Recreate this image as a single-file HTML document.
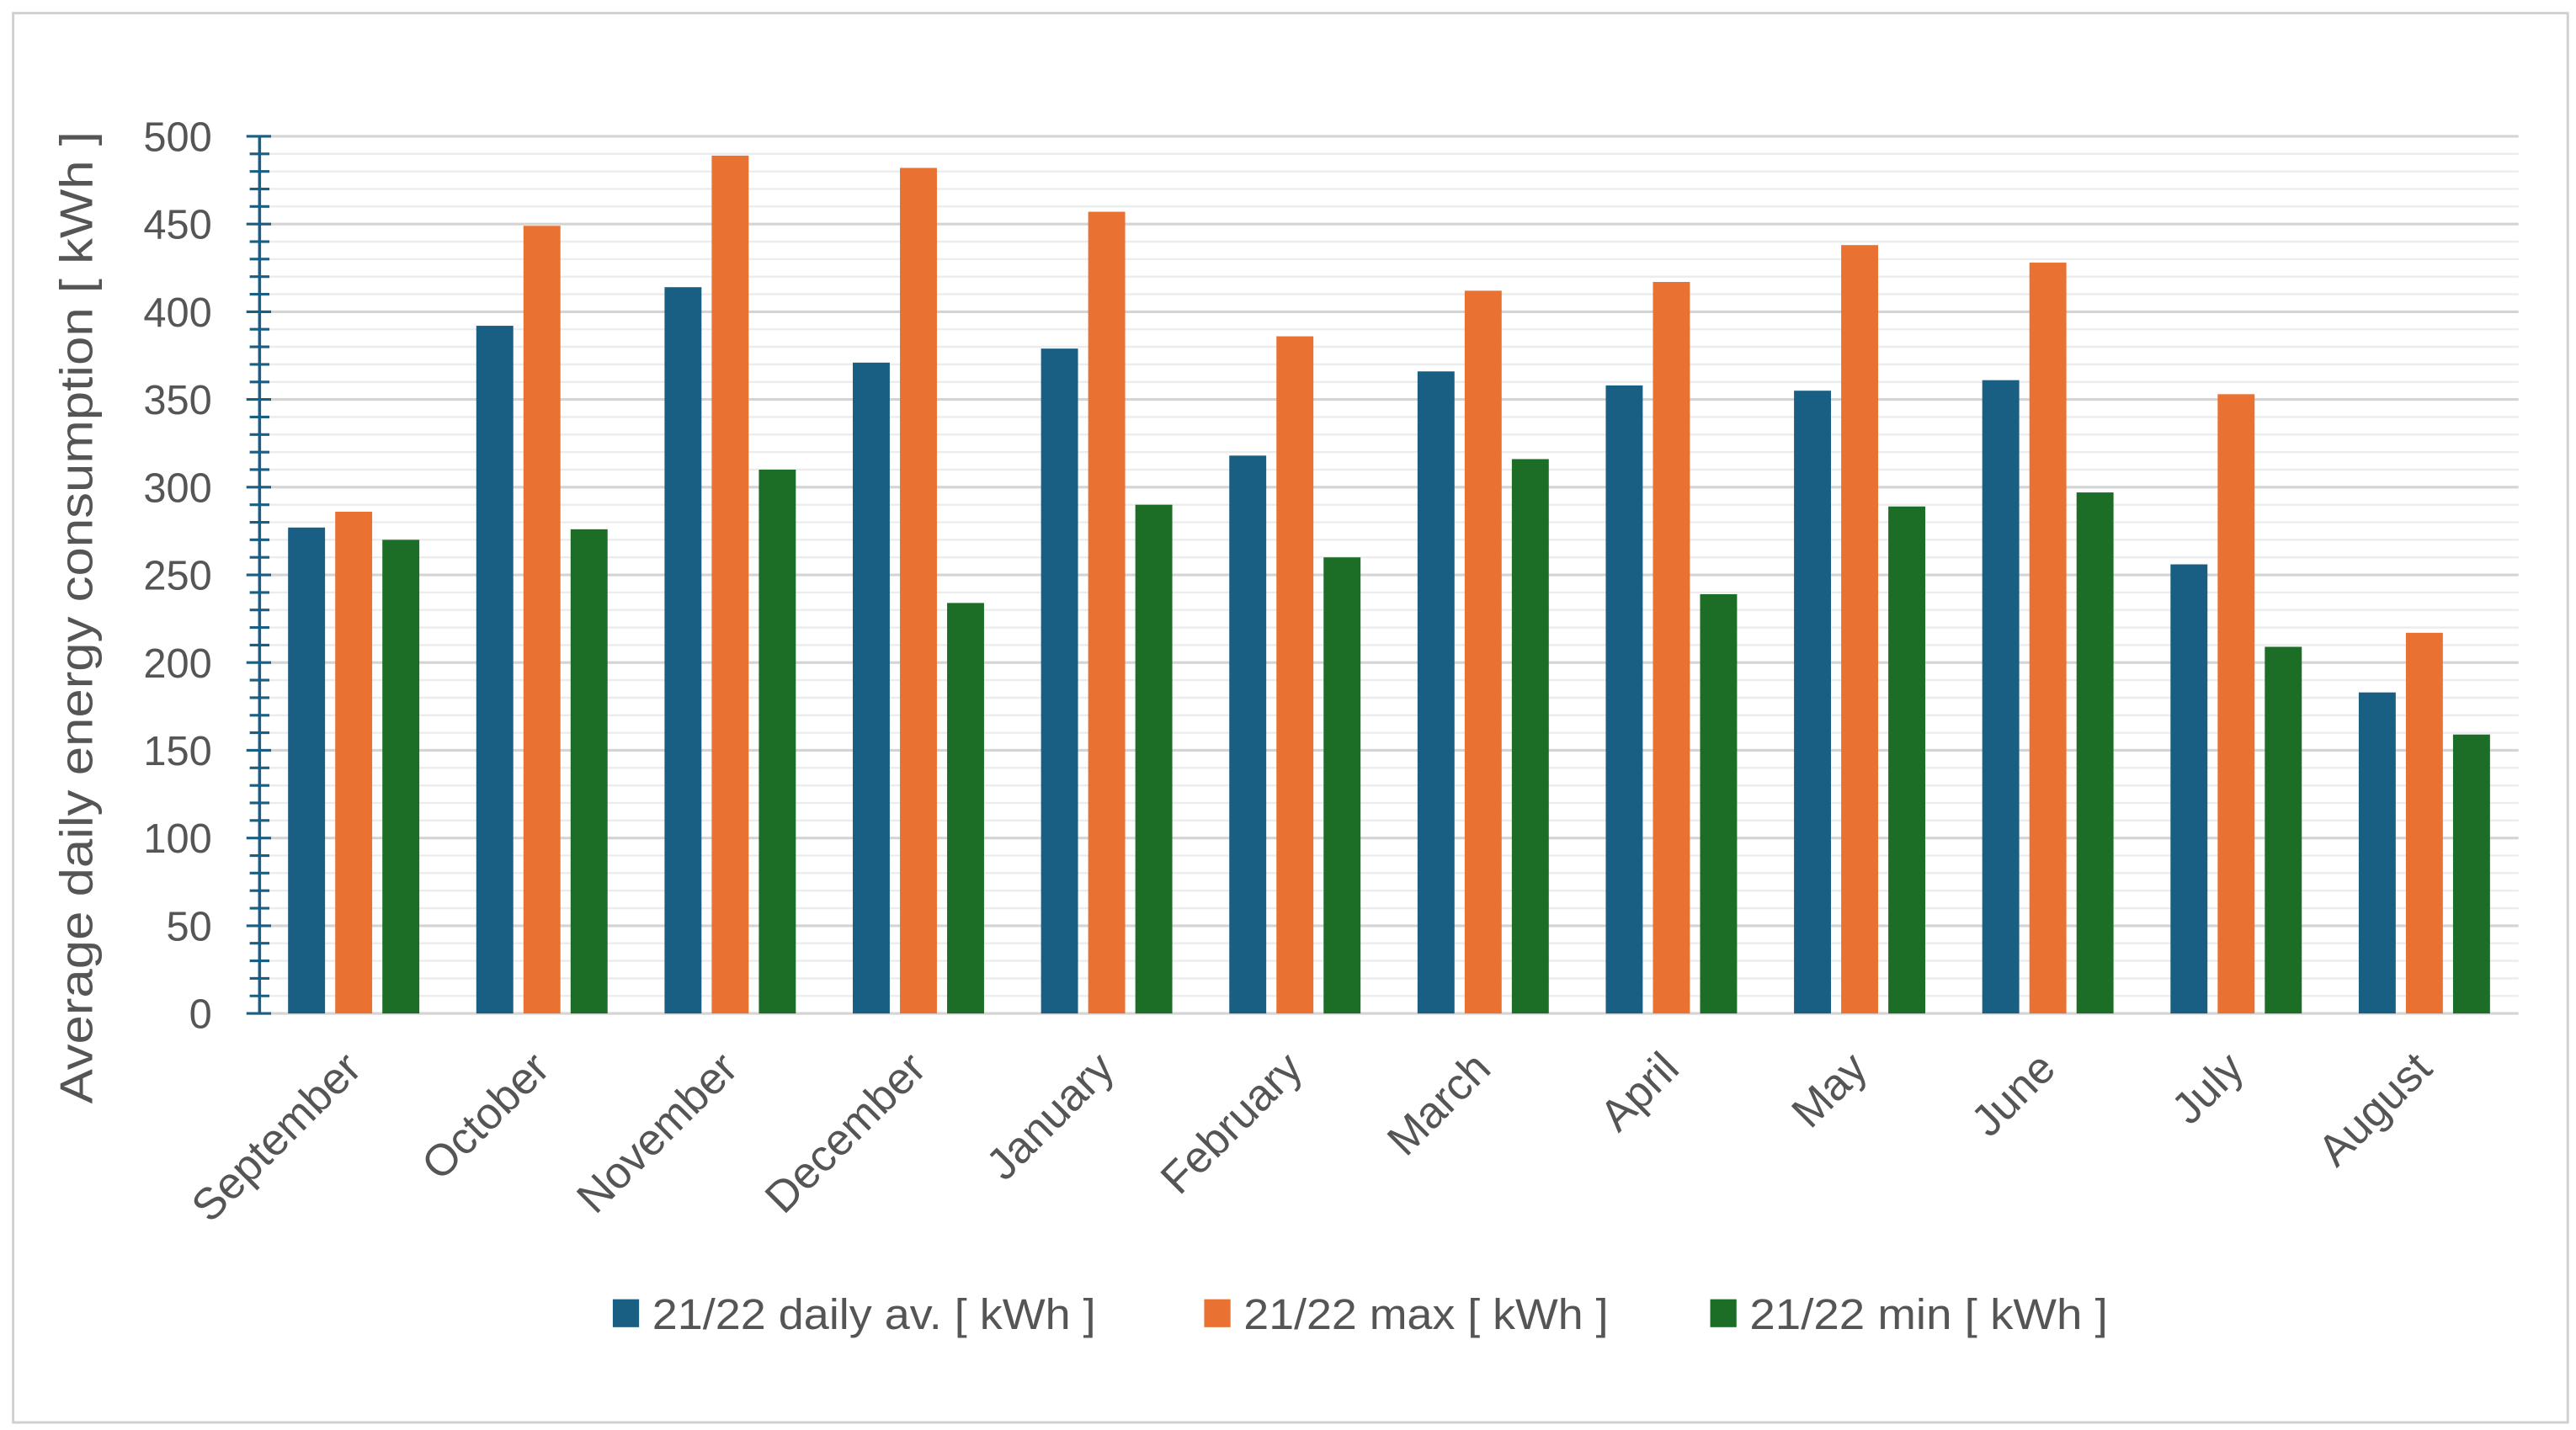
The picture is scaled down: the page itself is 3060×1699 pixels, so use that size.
<!DOCTYPE html>
<html><head><meta charset="utf-8"><style>
html,body{margin:0;padding:0;background:#fff;}
svg{display:block;}
text{font-family:"Liberation Sans",sans-serif;fill:#555;}
</style></head><body>
<svg id="chart" width="3060" height="1699" viewBox="0 0 1568 870.6" xmlns="http://www.w3.org/2000/svg">
<rect x="8" y="8" width="1555" height="858" fill="#fff" stroke="#d0d0d0" stroke-width="1.5"/>
<g id="grid"></g><g id="bars"></g><g id="axis"></g><g id="labels"></g>
<text transform="translate(56,376) rotate(-90)" text-anchor="middle" font-size="28" textLength="592" lengthAdjust="spacingAndGlyphs">Average daily energy consumption [ kWh ]</text>
<g id="legend"></g>
</svg>
<script>
const categories=["September","October","November","December","January","February","March","April","May","June","July","August"];
const dailyAv=[277,392,414,371,379,318,366,358,355,361,256,183];
const maxVals=[286,449,489,482,457,386,412,417,438,428,353,217];
const minVals=[270,276,310,234,290,260,316,239,289,297,209,159];
const yTicks=[0,50,100,150,200,250,300,350,400,450,500];
const seriesNames=["21/22 daily av. [ kWh ]","21/22 max [ kWh ]","21/22 min [ kWh ]"];
const colors=["#195e83","#e97132","#1c6e26"];
const NS="http://www.w3.org/2000/svg";
const X0=158,X1=1533,Y0=617,Y1=83,YMAX=500;
const y=v=>Y0-(v/YMAX)*(Y0-Y1);
const bw=(X1-X0)/categories.length;
function mk(t,a,p){const e=document.createElementNS(NS,t);for(const k in a)e.setAttribute(k,a[k]);p.appendChild(e);return e;}
const grid=document.getElementById('grid'),bars=document.getElementById('bars'),axis=document.getElementById('axis'),labels=document.getElementById('labels');
for(let v=0;v<=YMAX;v+=10){
  const major=v%50===0;
  const l=mk('line',{x1:X0,x2:X1,y1:y(v),y2:y(v),stroke:major?'#d4d4d4':'#ececec','stroke-width':major?1.6:1.2},grid);
  
  
  const t=mk('line',{x1:major?150:152,x2:major?165:164,y1:y(v),y2:y(v),stroke:'#195e83','stroke-width':1.6},axis);
  
  
}
const ax=mk('line',{x1:X0,x2:X0,y1:Y1,y2:Y0,stroke:'#195e83','stroke-width':1.8},axis);


yTicks.forEach(v=>{
  const t=mk('text',{x:129,y:y(v)+9,'text-anchor':'end','font-size':25},labels);
  t.textContent=v;
  
  
});
const series=[dailyAv,maxVals,minVals];
const barW=22.5,gap=6.2;
categories.forEach((c,i)=>{
  const cx=X0+bw*(i+0.5);
  series.forEach((s,j)=>{
    const x=cx+(j-1)*(barW+gap)-barW/2;
    const r=mk('rect',{x:x,y:y(s[i]),width:barW,height:Y0-y(s[i]),fill:colors[j]},bars);
    
    
  });
  const t=mk('text',{transform:`translate(${cx+6},${652}) rotate(-45)`,'text-anchor':'end','font-size':27},labels);
  t.textContent=c;
  
  
});
const lg=document.getElementById('legend');
const lx=[373,733,1041],lw=[270,222,218];
seriesNames.forEach((n,j)=>{
  const r=mk('rect',{x:lx[j],y:791,width:16,height:17,fill:colors[j]},lg);
  
  
  const t=mk('text',{x:lx[j]+24,y:809,'font-size':26,textLength:lw[j],lengthAdjust:'spacingAndGlyphs'},lg);
  t.textContent=n;
  
  
});
</script>
</body></html>
